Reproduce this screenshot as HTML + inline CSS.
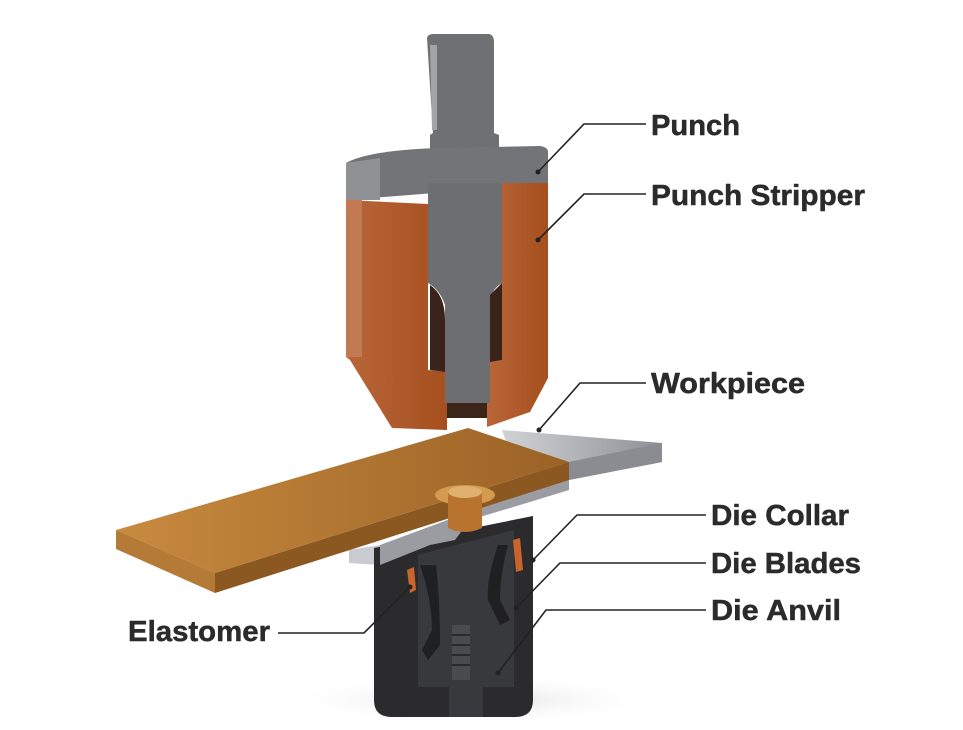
<!DOCTYPE html>
<html><head><meta charset="utf-8"><style>
html,body{margin:0;padding:0;background:#fff;}
svg{display:block}
text{font-family:"Liberation Sans",sans-serif;font-weight:bold;font-size:29px;fill:#2b2b2b;stroke:#2b2b2b;stroke-width:0.5}
</style></head><body>
<svg width="963" height="730" viewBox="0 0 963 730" xmlns="http://www.w3.org/2000/svg">
<defs>
<linearGradient id="or" x1="0" x2="1"><stop offset="0" stop-color="#b8663a"/><stop offset="1" stop-color="#a64f1e"/></linearGradient>
<linearGradient id="plate" x1="0" y1="0" x2="1" y2="0"><stop offset="0" stop-color="#c88a3e"/><stop offset="1" stop-color="#9a6226"/></linearGradient>
<linearGradient id="strip" x1="0" x2="1"><stop offset="0" stop-color="#d0d2d6"/><stop offset="1" stop-color="#8e9096"/></linearGradient>
<radialGradient id="shadow" cx="0.5" cy="0.5" r="0.5"><stop offset="0" stop-color="#ddd"/><stop offset="1" stop-color="#fff" stop-opacity="0"/></radialGradient>
</defs>
<ellipse cx="470" cy="700" rx="190" ry="25" fill="url(#shadow)"/>
<!-- punch stem -->
<path d="M427,38 Q428,34 433,34 L489,34 Q494,35 494,42 L494,133 L499,135 L499,150 L430,150 L430,135 L433,133 Z" fill="#6f7074"/>
<path d="M430,45 L437,45 L437,130 L432,130 Z" fill="#a3a4a8"/>
<!-- punch head -->
<path d="M346,163 Q370,150 440,148 L540,146 Q548,147 548,152 L548,184 L346,200 Z" fill="#737478"/>
<path d="M346,163 L380,158 L380,200 L346,200 Z" fill="#909195"/>
<!-- stripper -->
<path d="M346,200 L428,204 L428,370 L447,372 L447,430 L392,428 L350,360 L346,357 Z" fill="url(#or)"/>
<path d="M346,200 L362,200 L362,357 L346,357 Z" fill="#c27a52"/>
<path d="M502,183 L548,183 L548,378 L530,412 L487,427 L487,362 L502,360 Z" fill="url(#or)"/>
<!-- gray center -->
<path d="M428,183 L502,183 L502,283 Q490,290 490,305 L490,403 L445,403 L445,305 Q440,290 428,283 Z" fill="#6d6e72"/>
<path d="M430,285 Q445,295 445,320 L445,372 L430,370 Z" fill="#3a241a"/>
<path d="M490,295 Q500,285 502,283 L502,360 L490,362 Z" fill="#3a241a"/>
<path d="M447,403 L487,403 L487,418 L447,418 Z" fill="#3b2418"/>
<!-- gray strip -->
<path d="M502,430 L662,443 L662,462 L569,480 L520,480 Z" fill="url(#strip)"/>
<path d="M569,462 L662,443 L662,462 L569,480 Z" fill="#8a8c92"/>
<path d="M349,550 L380,545 L380,565 L349,563 Z" fill="#c9cbd0"/>
<!-- die body -->
<path d="M374,548 L533,516 L533,700 Q533,717 515,717 L392,717 Q374,717 374,700 Z" fill="#2b2b2d"/>
<path d="M418,555 L514,530 L514,687 L483,687 L483,717 L449,717 L449,687 L418,687 Z" fill="#38393c"/>
<path d="M420,565 Q432,600 432,630 L422,650 L428,660 L440,645 Q440,600 436,565 Z" fill="#202022"/>
<path d="M498,545 Q486,580 488,600 L500,625 L510,620 L500,600 Q500,575 508,545 Z" fill="#202022"/>
<path d="M452,625 L470,625 L470,680 L452,680 Z" fill="#4a4b4e"/>
<g stroke="#2a2a2c" stroke-width="2"><line x1="452" y1="635" x2="470" y2="635"/><line x1="452" y1="645" x2="470" y2="645"/><line x1="452" y1="655" x2="470" y2="655"/><line x1="452" y1="665" x2="470" y2="665"/></g>
<path d="M407,570 L414,567 L416,590 L410,593 Z" fill="#c9652b"/>
<path d="M513,540 L520,538 L523,570 L516,572 Z" fill="#c9652b"/>
<!-- gray layer under plate -->
<path d="M380,545 L569,475 L569,490 L520,505 L470,520 L455,540 L430,545 L380,565 Z" fill="#9a9ca2"/>
<!-- orange plate -->
<path d="M116,530 L468,428 L569,462 L215,573 Z" fill="url(#plate)"/>
<path d="M116,530 L215,573 L215,593 L116,549 Z" fill="#b57a35"/>
<path d="M215,573 L569,462 L569,480 L215,593 Z" fill="#8a5820"/>
<ellipse cx="465" cy="495" rx="30" ry="10" fill="#d49a50"/>
<path d="M448,492 L482,492 L482,528 Q465,536 448,528 Z" fill="#b8742e"/>
<ellipse cx="465" cy="492" rx="17" ry="6" fill="#e0b070"/>
<!-- leader lines -->
<g stroke="#222" stroke-width="1.6" fill="none">
<polyline points="538,172 584,124 646,124"/>
<polyline points="538,240 584,194 646,194"/>
<polyline points="539,430 580,383 646,383"/>
<polyline points="533,560 577,515 706,515"/>
<polyline points="516,608 560,563 706,563"/>
<polyline points="498,673 546,610 706,610"/>
<polyline points="410,587 364,633 278,633"/>
</g>
<g fill="#222"><circle cx="538" cy="172" r="2.5"/><circle cx="538" cy="240" r="2.5"/><circle cx="539" cy="430" r="2.5"/><circle cx="533" cy="560" r="2.5"/><circle cx="516" cy="608" r="2.5"/><circle cx="498" cy="673" r="2.5"/><circle cx="410" cy="587" r="2.5"/></g>
<text x="651" y="135" textLength="89" lengthAdjust="spacingAndGlyphs">Punch</text>
<text x="651" y="205" textLength="214" lengthAdjust="spacingAndGlyphs">Punch Stripper</text>
<text x="651" y="393" textLength="154" lengthAdjust="spacingAndGlyphs">Workpiece</text>
<text x="711" y="525" textLength="138" lengthAdjust="spacingAndGlyphs">Die Collar</text>
<text x="711" y="573" textLength="150" lengthAdjust="spacingAndGlyphs">Die Blades</text>
<text x="711" y="620" textLength="130" lengthAdjust="spacingAndGlyphs">Die Anvil</text>
<text x="128" y="641" textLength="142" lengthAdjust="spacingAndGlyphs">Elastomer</text>
</svg>
</body></html>
